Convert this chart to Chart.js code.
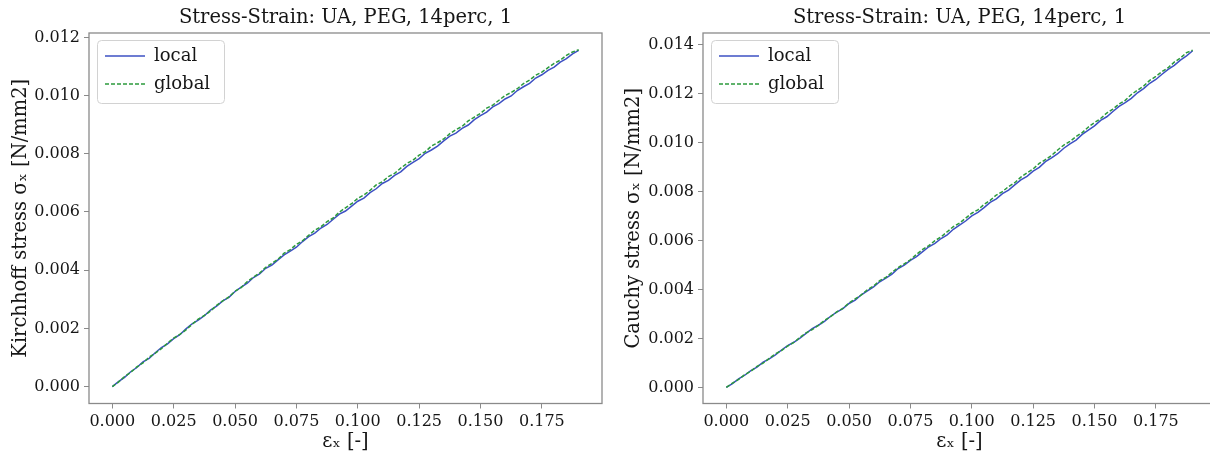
<!DOCTYPE html>
<html><head><meta charset="utf-8">
<script src="https://cdn.jsdelivr.net/npm/chart.js@4.4.1/dist/chart.umd.min.js"></script>
<style>
html,body{margin:0;padding:0;background:#fff;overflow:hidden;width:1210px;height:455px;}
#c1{position:absolute;left:0;top:0;}
#c2{position:absolute;left:605px;top:0;}
</style></head><body>
<canvas id="c1" width="605" height="455"></canvas>
<canvas id="c2" width="620" height="455"></canvas>
<script>
const strain = [0, 0.0025, 0.005, 0.0075, 0.01, 0.0125, 0.015, 0.0175, 0.02, 0.0225,
  0.025, 0.0275, 0.03, 0.0325, 0.035, 0.0375, 0.04, 0.0425, 0.045, 0.0475,
  0.05, 0.0525, 0.055, 0.0575, 0.06, 0.0625, 0.065, 0.0675, 0.07, 0.0725,
  0.075, 0.0775, 0.08, 0.0825, 0.085, 0.0875, 0.09, 0.0925, 0.095, 0.0975,
  0.1, 0.1025, 0.105, 0.1075, 0.11, 0.1125, 0.115, 0.1175, 0.12, 0.1225,
  0.125, 0.1275, 0.13, 0.1325, 0.135, 0.1375, 0.14, 0.1425, 0.145, 0.1475,
  0.15, 0.1525, 0.155, 0.1575, 0.16, 0.1625, 0.165, 0.1675, 0.17, 0.1725,
  0.175, 0.1775, 0.18, 0.1825, 0.185, 0.1875, 0.19];

const kirchhoffLocal = [0, 0.000174, 0.000320, 0.000512, 0.000656, 0.000847, 0.000973, 0.001165, 0.001343, 0.001471,
  0.001649, 0.001784, 0.001982, 0.002160, 0.002283, 0.002437, 0.002632, 0.002767, 0.002944, 0.003066,
  0.003268, 0.003415, 0.003553, 0.003747, 0.003872, 0.004067, 0.004176, 0.004356, 0.004524, 0.004652,
  0.004789, 0.004984, 0.005152, 0.005276, 0.005450, 0.005571, 0.005750, 0.005927, 0.006033, 0.006201,
  0.006370, 0.006475, 0.006664, 0.006798, 0.006980, 0.007086, 0.007257, 0.007378, 0.007566, 0.007706,
  0.007832, 0.008017, 0.008130, 0.008265, 0.008445, 0.008607, 0.008712, 0.008871, 0.008988, 0.009172,
  0.009308, 0.009430, 0.009609, 0.009724, 0.009884, 0.009986, 0.010174, 0.010303, 0.010422, 0.010603,
  0.010715, 0.010869, 0.010978, 0.011151, 0.011268, 0.011434, 0.011552];

const kirchhoffGlobal = [0, 0.000156, 0.000346, 0.000491, 0.000680, 0.000815, 0.001013, 0.001147, 0.001302, 0.001493,
  0.001668, 0.001792, 0.001948, 0.002140, 0.002317, 0.002446, 0.002594, 0.002792, 0.002948, 0.003081,
  0.003280, 0.003403, 0.003611, 0.003759, 0.003902, 0.004099, 0.004232, 0.004378, 0.004586, 0.004706,
  0.004887, 0.005014, 0.005200, 0.005376, 0.005494, 0.005669, 0.005794, 0.005997, 0.006145, 0.006285,
  0.006468, 0.006585, 0.006744, 0.006930, 0.007040, 0.007218, 0.007327, 0.007506, 0.007668, 0.007782,
  0.007954, 0.008073, 0.008264, 0.008379, 0.008509, 0.008691, 0.008830, 0.008941, 0.009130, 0.009260,
  0.009388, 0.009568, 0.009671, 0.009840, 0.010000, 0.010106, 0.010236, 0.010413, 0.010534, 0.010701,
  0.010805, 0.010957, 0.011106, 0.011217, 0.011378, 0.011498, 0.011575];

const cauchyLocal = [0, 0.000156, 0.000348, 0.000495, 0.000687, 0.000825, 0.001028, 0.001167, 0.001328, 0.001526,
  0.001709, 0.001842, 0.002007, 0.002209, 0.002397, 0.002538, 0.002698, 0.002906, 0.003072, 0.003216,
  0.003427, 0.003562, 0.003783, 0.003945, 0.004103, 0.004315, 0.004465, 0.004628, 0.004854, 0.004992,
  0.005192, 0.005339, 0.005546, 0.005744, 0.005884, 0.006082, 0.006231, 0.006458, 0.006631, 0.006797,
  0.007007, 0.007151, 0.007342, 0.007561, 0.007705, 0.007917, 0.008061, 0.008276, 0.008474, 0.008625,
  0.008835, 0.008992, 0.009222, 0.009377, 0.009547, 0.009770, 0.009951, 0.010105, 0.010337, 0.010510,
  0.010683, 0.010908, 0.011057, 0.011272, 0.011480, 0.011633, 0.011812, 0.012038, 0.012208, 0.012426,
  0.012581, 0.012794, 0.012996, 0.013160, 0.013374, 0.013548, 0.013753];

const cauchyGlobal = [0, 0.000174, 0.000322, 0.000516, 0.000663, 0.000857, 0.000988, 0.001185, 0.001369, 0.001504,
  0.001690, 0.001834, 0.002041, 0.002229, 0.002363, 0.002529, 0.002736, 0.002890, 0.003085, 0.003227,
  0.003449, 0.003617, 0.003777, 0.003993, 0.004142, 0.004360, 0.004495, 0.004701, 0.004895, 0.005050,
  0.005214, 0.005438, 0.005636, 0.005790, 0.005995, 0.006147, 0.006359, 0.006569, 0.006708, 0.006911,
  0.007115, 0.007256, 0.007477, 0.007644, 0.007860, 0.008000, 0.008206, 0.008363, 0.008587, 0.008764,
  0.008928, 0.009151, 0.009303, 0.009478, 0.009698, 0.009901, 0.010048, 0.010250, 0.010410, 0.010637,
  0.010818, 0.010985, 0.011210, 0.011371, 0.011579, 0.011728, 0.011965, 0.012143, 0.012311, 0.012543,
  0.012706, 0.012900, 0.013062, 0.013288, 0.013458, 0.013678, 0.013777];

const seriesNames = ['local', 'global'];
const titles = ['Stress-Strain: UA, PEG, 14perc, 1', 'Stress-Strain: UA, PEG, 14perc, 1'];
const yTitles = ['Kirchhoff stress σₓ [N/mm2]', 'Cauchy stress σₓ [N/mm2]'];
const xTitle = 'εₓ [-]';
const xTicks = [0, 0.025, 0.05, 0.075, 0.1, 0.125, 0.15, 0.175];
const yTicksKirchhoff = [0, 0.002, 0.004, 0.006, 0.008, 0.010, 0.012];
const yTicksCauchy = [0, 0.002, 0.004, 0.006, 0.008, 0.010, 0.012, 0.014];

const BLUE = '#3d50c3';
const GREEN = '#2c9a3c';
const TXT = '#161616';
const FONT = '"DejaVu Serif", "Liberation Serif", serif';
const LW = 1.5;
Chart.defaults.font.family = FONT;

const framePlugin = {
  id: 'frame',
  afterLayout(chart) {
    const a = chart.chartArea, lg = chart.legend;
    lg.left = a.left + 6; lg.top = a.top + 4;
    lg.right = lg.left + lg.width; lg.bottom = lg.top + lg.height;
  },
  afterDraw(chart) {
    const {ctx, chartArea: a} = chart;
    const lg = chart.legend;
    const pad = lg.options.labels.padding;
    ctx.save();
    ctx.font = '18px ' + FONT;
    const tw = Math.max(...lg.legendItems.map(it => ctx.measureText(it.text).width));
    const ix = lg.left + pad, iy = lg.top + pad;
    const x0 = Math.round(ix - 8), y0 = Math.round(iy - 7);
    const x1 = Math.round(ix + 40 + 9 + tw + 14), y1 = Math.round(iy + 56);
    ctx.strokeStyle = '#d2d2d2'; ctx.lineWidth = 1;
    ctx.beginPath(); ctx.roundRect(x0 + 0.5, y0 + 0.5, x1 - x0, y1 - y0, 4); ctx.stroke();
    ctx.strokeStyle = '#8a8a8a'; ctx.lineWidth = 1.3;
    ctx.strokeRect(a.left, a.top, a.right - a.left, a.bottom - a.top);
    ctx.restore();
  }
};

function legendLabels(chart) {
  const items = Chart.defaults.plugins.legend.labels.generateLabels(chart);
  items.forEach(it => {
    const ds = chart.data.datasets[it.datasetIndex];
    it.lineDash = ds.borderDash || [];
    it.lineWidth = LW;
    it.strokeStyle = ds.borderColor;
    it.fillStyle = ds.borderColor;
  });
  return items;
}

function makeChart(id, title, yTitle, localVals, globalVals, yTicks, yMin, yMax, g) {
  return new Chart(document.getElementById(id), {
    type: 'line',
    data: {
      datasets: [
        {label: seriesNames[0], data: strain.map((x, i) => ({x: x, y: localVals[i]})),
         borderColor: BLUE, backgroundColor: BLUE, borderWidth: LW, pointRadius: 0, fill: false, tension: 0, order: 1},
        {label: seriesNames[1], data: strain.map((x, i) => ({x: x, y: globalVals[i]})),
         borderColor: GREEN, backgroundColor: GREEN, borderWidth: LW, borderDash: [4, 2], pointRadius: 0, fill: false, tension: 0, order: 0}
      ]
    },
    options: {
      responsive: false, animation: false, devicePixelRatio: 1,
      layout: {padding: {left: 0, right: g.padRight, top: 0, bottom: 0}},
      plugins: {
        title: {display: true, text: title, fullSize: false, color: TXT,
                font: {size: 19.5, weight: 'normal'}, padding: {top: 6, bottom: 3.6}},
        legend: {position: 'chartArea', align: 'start',
                 labels: {usePointStyle: true, pointStyle: 'line', pointStyleWidth: 40, boxHeight: 18,
                          font: {size: 18}, color: TXT, padding: 10,
                          generateLabels: legendLabels,
                          sort: (a, b) => a.datasetIndex - b.datasetIndex}},
        tooltip: {enabled: false}
      },
      scales: {
        x: {type: 'linear', min: -0.0095, max: 0.1995,
            afterBuildTicks: s => { s.ticks = xTicks.map(v => ({value: v})); },
            afterFit: s => { s.height = 51.5; },
            grid: {display: true, drawOnChartArea: false, drawTicks: true, tickLength: 5, color: '#8a8a8a'},
            border: {display: false},
            ticks: {font: {size: 16}, color: TXT, padding: 4, maxRotation: 0, autoSkip: false,
                    callback: v => Number(v).toFixed(3)},
            title: {display: true, text: xTitle, color: TXT, font: {size: 19.5}, padding: {top: 0, bottom: 1.3}}},
        y: {type: 'linear', min: yMin, max: yMax,
            afterBuildTicks: s => { s.ticks = yTicks.map(v => ({value: v})); },
            afterFit: s => { s.width = g.axisW; },
            grid: {display: true, drawOnChartArea: false, drawTicks: true, tickLength: 5, color: '#8a8a8a'},
            border: {display: false},
            ticks: {font: {size: 16}, color: TXT, padding: 4, autoSkip: false,
                    callback: v => Number(v).toFixed(3)},
            title: {display: true, text: yTitle, color: TXT, font: {size: 19.5}, padding: {top: g.yTitlePad, bottom: 0}}}
      }
    },
    plugins: [framePlugin]
  });
}

makeChart('c1', titles[0], yTitles[0], kirchhoffLocal, kirchhoffGlobal, yTicksKirchhoff, -0.00058, 0.01215,
  {axisW: 89, padRight: 3, yTitlePad: 9});
makeChart('c2', titles[1], yTitles[1], cauchyLocal, cauchyGlobal, yTicksCauchy, -0.00066, 0.01448,
  {axisW: 98, padRight: 9, yTitlePad: 17});
</script>
</body></html>
